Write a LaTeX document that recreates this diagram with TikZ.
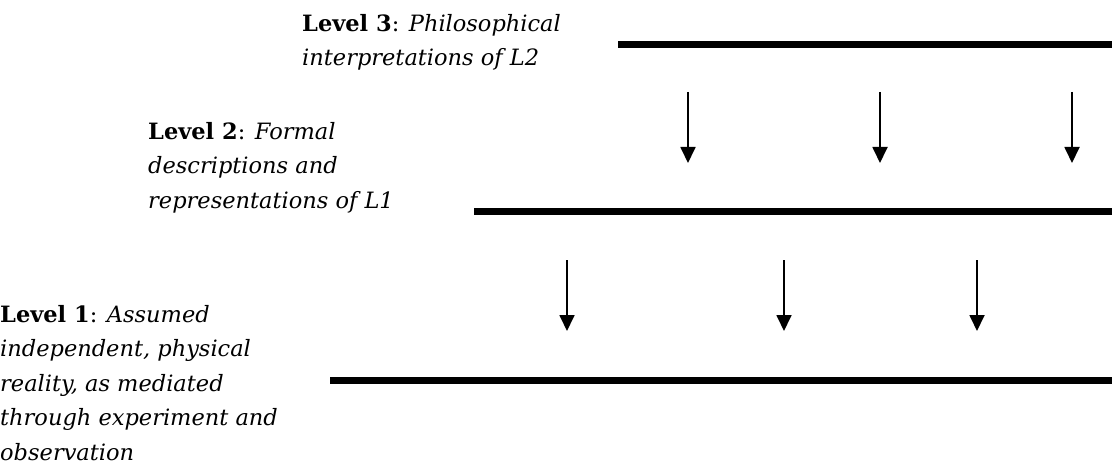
\documentclass[tikz,border=0pt]{standalone}
\usepackage{fontspec}
\setmainfont{DejaVu Serif}
\usetikzlibrary{arrows.meta}
\definecolor{LevelColor}{RGB}{0,0,0}

\begin{document}
\begin{tikzpicture}[x=1pt, y=-1pt,
    levelline/.style={line width=7pt, LevelColor},
    linkarrow/.style={-{Triangle[length=16pt, width=15pt]}, line width=1.8pt, LevelColor},
    leveltext/.style={anchor=base west, align=left, inner sep=0pt, font=\fontsize{22.5}{34.5}\selectfont}]
  \useasboundingbox (0,0) rectangle (1112,468);
  % the three levels
  \coordinate (L3start) at (618,45);  \coordinate (L3end) at (1112,45);
  \coordinate (L2start) at (474,212); \coordinate (L2end) at (1112,212);
  \coordinate (L1start) at (330,380); \coordinate (L1end) at (1112,380);
  \draw[levelline] (L3start) -- (L3end);
  \draw[levelline] (L2start) -- (L2end);
  \draw[levelline] (L1start) -- (L1end);
  % labels (placed at the baseline of their last line)
  \node[leveltext] (lab3) at (302,66) {\textbf{Level 3}: \textit{Philosophical}\\ \textit{interpretations of L2}};
  \node[leveltext] (lab2) at (148,208) {\textbf{Level 2}: \textit{Formal}\\ \textit{descriptions and}\\ \textit{representations of L1}};
  \node[leveltext] (lab1) at (0,460) {\textbf{Level 1}: \textit{Assumed}\\ \textit{independent, physical}\\ \textit{reality, as mediated}\\ \textit{through experiment and}\\ \textit{observation}};
  % arrows from L3 to L2
  \foreach \x [count=\i] in {688,880,1072} {
    \coordinate (upfrom\i) at (\x,92);
    \coordinate (upto\i) at (\x,163);
    \draw[linkarrow] (upfrom\i) -- (upto\i);
  }
  % arrows from L2 to L1
  \foreach \x [count=\i] in {567,784,977} {
    \coordinate (lowfrom\i) at (\x,260);
    \coordinate (lowto\i) at (\x,331);
    \draw[linkarrow] (lowfrom\i) -- (lowto\i);
  }
\end{tikzpicture}
\end{document}
